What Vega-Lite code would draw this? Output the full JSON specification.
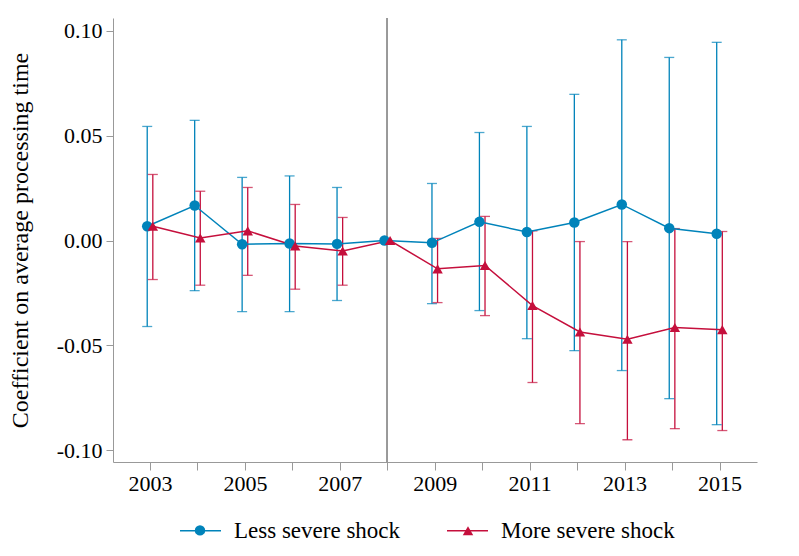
{
  "$schema": "https://vega.github.io/schema/vega-lite/v6.json",
  "autosize": {"type": "none"},
  "padding": {"left": 113, "top": 18, "right": 42, "bottom": 94},
  "width": 644,
  "height": 444,
  "background": "white",
  "config": {
    "view": {"stroke": null},
    "font": "Liberation Serif",
    "axis": {"labelFont": "Liberation Serif", "titleFont": "Liberation Serif", "labelColor": "black", "titleColor": "black", "domainColor": "#999999", "tickColor": "#999999", "grid": false, "titleFontWeight": "normal"}
  },
  "data": {"values": [
    {"year": 2003, "group": "Less severe shock", "est": 0.0068, "lo": -0.041, "hi": 0.0544},
    {"year": 2004, "group": "Less severe shock", "est": 0.0167, "lo": -0.0239, "hi": 0.0573},
    {"year": 2005, "group": "Less severe shock", "est": -0.0018, "lo": -0.0339, "hi": 0.0301},
    {"year": 2006, "group": "Less severe shock", "est": -0.0014, "lo": -0.0339, "hi": 0.0308},
    {"year": 2007, "group": "Less severe shock", "est": -0.0016, "lo": -0.0286, "hi": 0.0253},
    {"year": 2008, "group": "Less severe shock", "est": 0, "lo": null, "hi": null},
    {"year": 2009, "group": "Less severe shock", "est": -0.0011, "lo": -0.0301, "hi": 0.0272},
    {"year": 2010, "group": "Less severe shock", "est": 0.0089, "lo": -0.0334, "hi": 0.0515},
    {"year": 2011, "group": "Less severe shock", "est": 0.0041, "lo": -0.0468, "hi": 0.0544},
    {"year": 2012, "group": "Less severe shock", "est": 0.0086, "lo": -0.0525, "hi": 0.0697},
    {"year": 2013, "group": "Less severe shock", "est": 0.0172, "lo": -0.062, "hi": 0.0957},
    {"year": 2014, "group": "Less severe shock", "est": 0.0059, "lo": -0.0754, "hi": 0.0873},
    {"year": 2015, "group": "Less severe shock", "est": 0.0032, "lo": -0.0878, "hi": 0.0945},
    {"year": 2003, "group": "More severe shock", "est": 0.0068, "lo": -0.0186, "hi": 0.0315},
    {"year": 2004, "group": "More severe shock", "est": 0.0012, "lo": -0.0213, "hi": 0.0235},
    {"year": 2005, "group": "More severe shock", "est": 0.0046, "lo": -0.0166, "hi": 0.0253},
    {"year": 2006, "group": "More severe shock", "est": -0.0026, "lo": -0.0232, "hi": 0.0172},
    {"year": 2007, "group": "More severe shock", "est": -0.005, "lo": -0.0213, "hi": 0.011},
    {"year": 2008, "group": "More severe shock", "est": 0, "lo": null, "hi": null},
    {"year": 2009, "group": "More severe shock", "est": -0.0135, "lo": -0.0296, "hi": 0.001},
    {"year": 2010, "group": "More severe shock", "est": -0.0119, "lo": -0.0358, "hi": 0.0115},
    {"year": 2011, "group": "More severe shock", "est": -0.031, "lo": -0.0677, "hi": 0.0046},
    {"year": 2012, "group": "More severe shock", "est": -0.0436, "lo": -0.0873, "hi": -0.0005},
    {"year": 2013, "group": "More severe shock", "est": -0.0471, "lo": -0.095, "hi": -0.0005},
    {"year": 2014, "group": "More severe shock", "est": -0.0415, "lo": -0.0897, "hi": 0.0057},
    {"year": 2015, "group": "More severe shock", "est": -0.0425, "lo": -0.0906, "hi": 0.0043}
  ]},
  "resolve": {"legend": {"color": "independent", "shape": "independent"}},
  "encoding": {
    "x": {"field": "year", "type": "quantitative", "scale": {"domain": [2002.22, 2015.79], "nice": false, "zero": false},
      "axis": {"title": null, "values": [2003,2004,2005,2006,2007,2008,2009,2010,2011,2012,2013,2014,2015], "labelExpr": "datum.value % 2 == 1 ? format(datum.value, 'd') : ''", "labelFontSize": 22, "tickSize": 8, "labelPadding": 3, "labelFlush": false}},
    "y": {"field": "est", "type": "quantitative", "scale": {"domain": [-0.1056, 0.1061], "nice": false, "zero": false},
      "axis": {"title": "Coefficient on average processing time", "titleFontSize": 24, "titlePadding": 24, "values": [-0.1, -0.05, 0, 0.05, 0.1], "labelExpr": "(datum.value < 0 ? '-' : '') + format(abs(datum.value), '.2f')", "labelFontSize": 22, "tickSize": 7, "labelPadding": 4}},
    "color": {"field": "group", "type": "nominal", "scale": {"domain": ["Less severe shock", "More severe shock"], "range": ["#0083BA", "#C50F3C"]}, "legend": null}
  },
  "layer": [
    {
      "mark": {"type": "rule", "color": "#999999", "strokeWidth": 1},
      "encoding": {"y": {"datum": 0, "type": "quantitative"}, "color": {"value": "#999999"}}
    },
    {
      "mark": {"type": "rule", "color": "#999999", "strokeWidth": 1},
      "encoding": {"x": {"datum": 2008, "type": "quantitative"}, "y": {"value": 0}, "y2": {"value": 444}, "color": {"value": "#999999"}}
    },
    {
      "mark": {"type": "rule", "strokeWidth": 1.3, "xOffset": {"expr": "datum.group == 'Less severe shock' ? -2.8 : 2.8"}},
      "encoding": {"y": {"field": "lo", "type": "quantitative"}, "y2": {"field": "hi"}}
    },
    {
      "mark": {"type": "tick", "orient": "horizontal", "size": 10, "thickness": 1.3, "xOffset": {"expr": "datum.group == 'Less severe shock' ? -2.8 : 2.8"}},
      "encoding": {"y": {"field": "lo", "type": "quantitative"}}
    },
    {
      "mark": {"type": "tick", "orient": "horizontal", "size": 10, "thickness": 1.3, "xOffset": {"expr": "datum.group == 'Less severe shock' ? -2.8 : 2.8"}},
      "encoding": {"y": {"field": "hi", "type": "quantitative"}}
    },
    {
      "mark": {"type": "line", "strokeWidth": 1.5, "xOffset": {"expr": "datum.group == 'Less severe shock' ? -2.8 : 2.8"}},
      "encoding": {
        "color": {"field": "group", "type": "nominal", "scale": {"domain": ["Less severe shock", "More severe shock"], "range": ["#0083BA", "#C50F3C"]},
          "legend": {"orient": "none", "legendX": 66, "legendY": 491, "direction": "horizontal", "title": null, "padding": 0, "symbolType": "stroke",
            "symbolSize": 1681, "symbolStrokeWidth": 1.5, "symbolOpacity": 1, "labelFont": "Liberation Serif", "labelFontSize": 23, "labelOffset": 12, "columnPadding": 43, "labelLimit": 400}}
      }
    },
    {
      "mark": {"type": "point", "filled": true, "opacity": 1, "size": 110, "xOffset": {"expr": "datum.group == 'Less severe shock' ? -2.8 : 2.8"}},
      "encoding": {
        "color": {"field": "group", "type": "nominal", "scale": {"domain": ["Less severe shock", "More severe shock"], "range": ["#0083BA", "#C50F3C"]},
          "legend": {"orient": "none", "legendX": 81, "legendY": 506, "direction": "horizontal", "title": null, "padding": 0,
            "symbolSize": 110, "symbolOpacity": 1, "labelFontSize": 1, "labelExpr": "''", "labelOffset": 0, "columnPadding": 250}},
        "shape": {"field": "group", "type": "nominal", "scale": {"domain": ["Less severe shock", "More severe shock"], "range": ["circle", "triangle-up"]},
          "legend": {"orient": "none", "legendX": 81, "legendY": 506, "direction": "horizontal", "title": null, "padding": 0,
            "symbolSize": 110, "symbolOpacity": 1, "labelFontSize": 1, "labelExpr": "''", "labelOffset": 0, "columnPadding": 250}}
      }
    }
  ]
}
